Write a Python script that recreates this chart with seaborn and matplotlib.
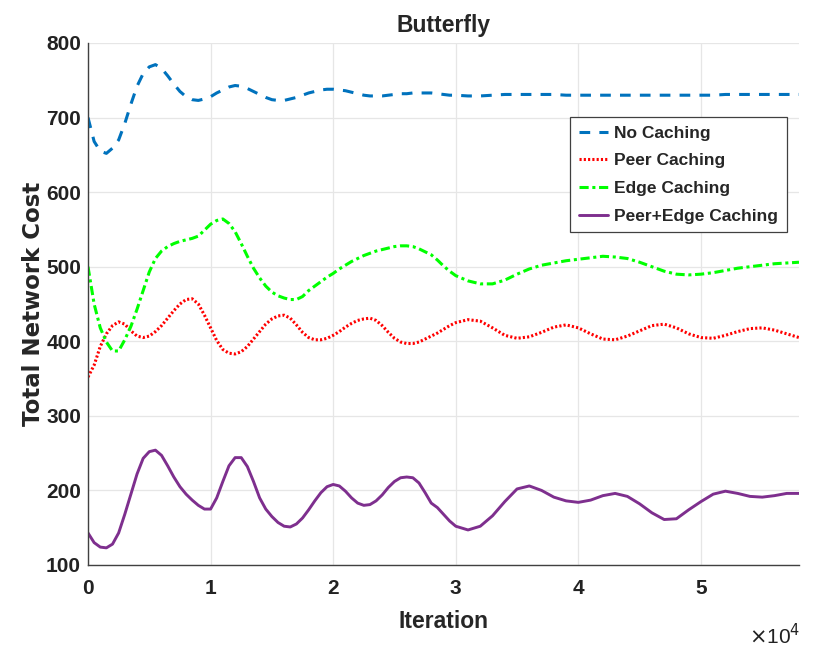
import numpy as np
import pandas as pd
import matplotlib
matplotlib.use("Agg")
import matplotlib.pyplot as plt
import seaborn as sns

# iterations: every 500 up to 30000, then every 1000
iterations = np.concatenate([np.arange(0, 30500, 500), np.arange(31000, 59000, 1000)])

no_caching = [700, 668, 655, 652, 659, 670, 692, 718, 742, 759,
              768, 771, 766, 756, 745, 735, 728, 724, 723, 725,
              728, 733, 737, 741, 743, 742, 739, 735, 731, 727,
              724, 723, 723, 725, 727, 730, 733, 735, 737, 738,
              738, 737, 736, 734, 732, 730, 729, 729, 729, 730,
              731, 732, 732, 733, 733, 733, 733, 732, 731, 730,
              730,
              729, 729, 730, 731, 731, 731, 731, 731, 730, 730,
              730, 730, 730, 730, 730, 730, 730, 730, 730, 730,
              730, 731, 731, 731, 731, 731, 731, 731]

peer_caching = [352, 368, 393, 410, 421, 426, 423, 414, 407, 405,
                407, 413, 421, 431, 441, 450, 456, 457, 450, 435,
                418, 401, 389, 384, 383, 386, 393, 403, 413, 423,
                430, 434, 435, 431, 422, 412, 405, 402, 402, 404,
                408, 413, 419, 424, 428, 430, 431, 428, 421, 412,
                404, 399, 397, 397, 399, 403, 407, 411, 416, 421,
                425,
                429, 427, 418, 408, 404, 406, 412, 419, 422, 418,
                410, 403, 402, 407, 414, 421, 423, 418, 410, 405,
                404, 408, 413, 417, 418, 415, 410, 405]

edge_caching = [500, 450, 418, 399, 387, 387, 402, 420, 443, 468,
                493, 511, 521, 527, 531, 534, 536, 538, 541, 549,
                557, 562, 564, 558, 547, 531, 514, 498, 485, 474,
                466, 461, 458, 456, 456, 460, 468, 474, 480, 486,
                491, 497, 502, 507, 511, 515, 518, 521, 523, 525,
                527, 528, 528, 527, 524, 520, 516, 509, 501, 494,
                488,
                481, 477, 477, 482, 490, 497, 502, 505, 508, 510,
                512, 514, 513, 511, 506, 500, 494, 490, 489, 490,
                492, 495, 498, 500, 502, 504, 505, 506]

peer_edge_caching = [143, 130, 124, 123, 128, 143, 168, 195, 222, 243,
                     252, 254, 247, 233, 218, 205, 195, 187, 180, 175,
                     175, 190, 212, 233, 244, 244, 232, 212, 190, 175,
                     165, 157, 152, 151, 155, 163, 174, 186, 197, 205,
                     208, 206, 199, 190, 183, 180, 181, 186, 194, 204,
                     212, 217, 218, 217, 210, 197, 183, 177, 168, 159,
                     152,
                     147, 152, 166, 185, 202, 206, 200, 191, 186, 184,
                     187, 193, 196, 192, 182, 170, 161, 162, 174, 185,
                     195, 199, 196, 192, 191, 193, 196, 196]

df = pd.DataFrame({
    "Iteration": iterations,
    "No Caching": no_caching,
    "Peer Caching": peer_caching,
    "Edge Caching": edge_caching,
    "Peer+Edge Caching": peer_edge_caching,
})

sns.set_style("white")
plt.rcParams['font.family'] = ['Liberation Sans', 'DejaVu Sans']

fig = plt.figure(figsize=(8.31, 6.65), dpi=100)
ax = fig.add_axes([88/831, 100/665, 711/831, 522/665])

styles = {
    "No Caching": dict(color="#0072BD", linestyle=(0, (3.5, 3.0)), linewidth=2.2),
    "Peer Caching": dict(color="#FF0000", linestyle=(0, (0.7, 0.7)), linewidth=2.2),
    "Edge Caching": dict(color="#00FF00", linestyle=(0, (3.0, 1.2, 1.0, 1.2)), linewidth=2.2),
    "Peer+Edge Caching": dict(color="#7E2F8E", linestyle="-", linewidth=2.1),
}

for name, st in styles.items():
    sns.lineplot(data=df, x="Iteration", y=name, ax=ax, label=name, **st)

ax.set_xlim(0, 58000)
ax.set_ylim(100, 800)
xt = np.arange(0, 60000, 10000)
ax.set_xticks(xt)
ax.set_xticklabels([str(int(t / 10000)) for t in xt])
ax.set_yticks(np.arange(100, 900, 100))

ax.grid(True, color="#e6e6e6", linewidth=0.9)
ax.set_axisbelow(True)
for s in ["top", "right"]:
    ax.spines[s].set_visible(False)
for s in ["left", "bottom"]:
    ax.spines[s].set_color("#404040")
    ax.spines[s].set_linewidth(1.0)

ax.tick_params(direction="in", length=6, width=0.9, color="#404040",
               labelsize=15, labelcolor="#222222")
ax.tick_params(axis="x", pad=10)
ax.tick_params(axis="y", pad=5)
for lab in ax.get_xticklabels() + ax.get_yticklabels():
    lab.set_fontweight("bold")

ax.set_title("Butterfly", fontsize=16.5, fontweight="bold", pad=8)
ax.set_xlabel("Iteration", fontsize=16.5, fontweight="bold", labelpad=9)
ax.set_ylabel("Total Network Cost", fontsize=16.5, fontweight="bold",
              family=["DejaVu Sans"], labelpad=1)

fig.text(0.963, 0.032, r"$\times$10$^{4}$", fontsize=15, ha="right", va="baseline",
         color="#222222")

leg = ax.legend(loc="upper right", bbox_to_anchor=(787/831, 548/665),
                bbox_transform=fig.transFigure, fontsize=12.5, frameon=True,
                fancybox=False, framealpha=1, edgecolor="#404040",
                handlelength=1.7, handletextpad=0.35, labelspacing=0.72,
                borderpad=0.5, borderaxespad=0)
leg.get_frame().set_linewidth(0.9)
for t in leg.get_texts():
    t.set_fontweight("bold")

plt.savefig("out.png", dpi=100)
